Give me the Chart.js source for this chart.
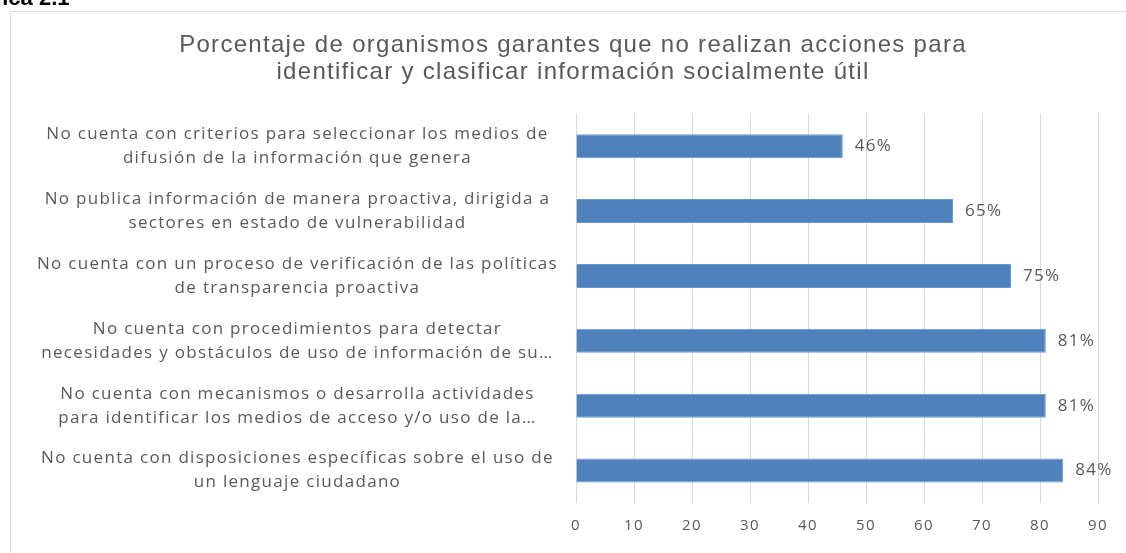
<!DOCTYPE html>
<html>
<head>
<meta charset="utf-8">
<script src="https://cdn.jsdelivr.net/npm/chart.js@4"></script>
<style>
  html, body { margin: 0; padding: 0; background: #fff; overflow: hidden; }
  #wrap { position: relative; width: 1126px; height: 553px; }
  #fig { position: absolute; z-index: 2; left: -43px; top: -15px; font: bold 22px "Liberation Sans", Arial, sans-serif; color: #000; white-space: nowrap; }
  canvas { position: absolute; left: 0; top: 0; z-index: 1; }
</style>
</head>
<body>
<div id="wrap">
  <div id="fig">Gráfica 2.1</div>
  <canvas id="c" width="1126" height="553"></canvas>
</div>
<script>
const titleLines = [
  "Porcentaje de organismos garantes que no realizan acciones para",
  "identificar y clasificar información socialmente útil"
];
const categories = [
  ["No cuenta con criterios para seleccionar los medios de", "difusión de la información que genera"],
  ["No publica información de manera proactiva, dirigida a", "sectores en estado de vulnerabilidad"],
  ["No cuenta con un proceso de verificación de las políticas", "de transparencia proactiva"],
  ["No cuenta con procedimientos para detectar", "necesidades y obstáculos de uso de información de su…"],
  ["No cuenta con mecanismos o desarrolla actividades", "para identificar los medios de acceso y/o uso de la…"],
  ["No cuenta con disposiciones específicas sobre el uso de", "un lenguaje ciudadano"]
];
const values = [46, 65, 75, 81, 81, 84];
const axisMin = 0, axisMax = 90, axisStep = 10;

const GRAY = "#595959";
const LABEL_FONT = "'Open Sans', sans-serif";
const SPACING = "1.3px";

const spacingPlugin = {
  id: "spacing",
  beforeUpdate(chart) { chart.ctx.letterSpacing = SPACING; },
  beforeLayout(chart) { chart.ctx.letterSpacing = SPACING; },
  beforeDraw(chart) { chart.ctx.letterSpacing = SPACING; }
};

const framePlugin = {
  id: "frame",
  beforeDraw(chart) {
    const ctx = chart.ctx;
    ctx.save();
    ctx.fillStyle = "#fff";
    ctx.fillRect(0, 0, chart.width, chart.height);
    ctx.strokeStyle = "#d9d9d9";
    ctx.lineWidth = 1;
    ctx.beginPath();
    ctx.moveTo(10.5, chart.height + 5);
    ctx.lineTo(10.5, 11.5);
    ctx.lineTo(chart.width + 5, 11.5);
    ctx.stroke();
    ctx.restore();
  }
};

const valueLabels = {
  id: "valueLabels",
  afterDatasetsDraw(chart) {
    const ctx = chart.ctx;
    const meta = chart.getDatasetMeta(0);
    ctx.save();
    ctx.font = "17px " + LABEL_FONT;
    ctx.fillStyle = GRAY;
    ctx.textAlign = "left";
    ctx.textBaseline = "middle";
    meta.data.forEach((bar, i) => {
      ctx.fillText(values[i] + "%", bar.x + 12, bar.y);
    });
    ctx.restore();
  }
};

new Chart(document.getElementById("c"), {
  type: "bar",
  data: {
    labels: categories,
    datasets: [{
      data: values,
      backgroundColor: "#4f81bd",
      borderColor: "#6a98cf",
      borderWidth: 1,
      barPercentage: 0.37,
      categoryPercentage: 1.0
    }]
  },
  options: {
    indexAxis: "y",
    responsive: false,
    animation: false,
    layout: { padding: { left: 48, right: 28, top: 20, bottom: 4 } },
    plugins: {
      legend: { display: false },
      tooltip: { enabled: false },
      title: {
        display: true,
        text: titleLines,
        color: GRAY,
        font: { family: "'Liberation Sans Narrow', 'Liberation Sans', sans-serif", size: 24, weight: "normal", lineHeight: 1.12 },
        padding: { top: 12, bottom: 28 }
      }
    },
    scales: {
      x: {
        min: axisMin,
        max: axisMax,
        grid: { color: "#d9d9d9", drawTicks: false },
        border: { display: false },
        ticks: {
          stepSize: axisStep,
          color: GRAY,
          padding: 14,
          font: { family: LABEL_FONT, size: 15 }
        }
      },
      y: {
        grid: { display: false },
        border: { display: false },
        afterFit(scale) { scale.width = 576 - 48; },
        afterUpdate(scale) {
          scale._computeLabelArea = function () {
            return { top: 0, left: 0, bottom: this.chart.height, right: this.right };
          };
        },
        ticks: {
          color: GRAY,
          crossAlign: "center",
          padding: 10,
          font: { family: LABEL_FONT, size: 17, lineHeight: 1.41 }
        }
      }
    }
  },
  plugins: [spacingPlugin, framePlugin, valueLabels]
});
</script>
</body>
</html>
